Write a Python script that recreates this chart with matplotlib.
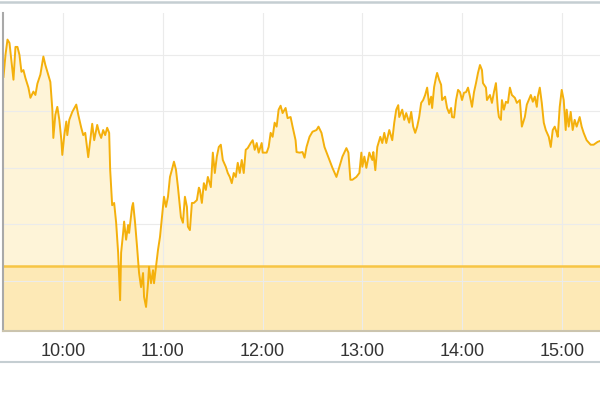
import matplotlib.pyplot as plt
from matplotlib.lines import Line2D
from matplotlib.ticker import FuncFormatter

# intraday series, time in decimal hours
times = [
    9.40, 9.42, 9.44, 9.46, 9.50, 9.52, 9.54, 9.56, 9.58, 9.60,
    9.62, 9.65, 9.67, 9.70, 9.72, 9.74, 9.77, 9.80, 9.82, 9.84,
    9.87, 9.89, 9.90, 9.92, 9.94, 9.96, 9.98, 9.99, 10.01, 10.03,
    10.04, 10.06, 10.09, 10.13, 10.15, 10.18, 10.20, 10.22, 10.25, 10.27,
    10.29, 10.31, 10.34, 10.36, 10.38, 10.40, 10.42, 10.44, 10.46, 10.47,
    10.49, 10.51, 10.53, 10.55, 10.57, 10.58, 10.60, 10.61, 10.63, 10.65,
    10.66, 10.69, 10.70, 10.72, 10.74, 10.76, 10.78, 10.80, 10.81, 10.83,
    10.85, 10.86, 10.88, 10.90, 10.91, 10.93, 10.95, 10.97, 10.99, 11.01,
    11.03, 11.05, 11.07, 11.09, 11.11, 11.13, 11.15, 11.18, 11.20, 11.22,
    11.24, 11.25, 11.27, 11.29, 11.31, 11.34, 11.36, 11.37, 11.39, 11.41,
    11.43, 11.45, 11.48, 11.50, 11.52, 11.54, 11.56, 11.58, 11.60, 11.63,
    11.65, 11.67, 11.69, 11.71, 11.73, 11.75, 11.77, 11.79, 11.81, 11.83,
    11.85, 11.88, 11.90, 11.92, 11.94, 11.96, 11.99, 12.00, 12.04, 12.06,
    12.08, 12.10, 12.12, 12.14, 12.16, 12.18, 12.20, 12.23, 12.25, 12.28,
    12.30, 12.33, 12.34, 12.37, 12.40, 12.42, 12.44, 12.47, 12.50, 12.54,
    12.56, 12.59, 12.62, 12.67, 12.70, 12.74, 12.77, 12.80, 12.84, 12.86,
    12.88, 12.90, 12.94, 12.97, 12.99, 13.00, 13.02, 13.04, 13.07, 13.10,
    13.11, 13.13, 13.15, 13.18, 13.20, 13.22, 13.24, 13.27, 13.30, 13.32,
    13.34, 13.36, 13.37, 13.40, 13.42, 13.44, 13.47, 13.49, 13.51, 13.53,
    13.55, 13.57, 13.59, 13.61, 13.63, 13.65, 13.67, 13.69, 13.70, 13.72,
    13.74, 13.75, 13.77, 13.79, 13.80, 13.83, 13.85, 13.87, 13.89, 13.90,
    13.92, 13.94, 13.96, 13.98, 14.00, 14.02, 14.04, 14.06, 14.08, 14.10,
    14.12, 14.14, 14.16, 14.18, 14.20, 14.21, 14.24, 14.25, 14.28, 14.30,
    14.32, 14.34, 14.36, 14.37, 14.39, 14.40, 14.42, 14.44, 14.46, 14.48,
    14.50, 14.53, 14.55, 14.58, 14.60, 14.63, 14.65, 14.69, 14.71, 14.73,
    14.75, 14.76, 14.78, 14.80, 14.82, 14.84, 14.87, 14.89, 14.91, 14.93,
    14.95, 14.96, 14.98, 15.00, 15.02, 15.04, 15.05, 15.07, 15.09, 15.11,
    15.13, 15.15, 15.18, 15.20, 15.22, 15.25, 15.29, 15.32, 15.36, 15.39,
]
prices = [
    136.1, 140.0, 142.7, 142.1, 135.6, 141.4, 141.4, 140.0, 137.0, 137.3,
    135.9, 134.2, 132.4, 133.5, 132.9, 134.9, 136.5, 139.7, 138.2, 137.0,
    135.2, 130.3, 125.3, 129.4, 130.8, 128.5, 125.0, 122.3, 125.8, 128.2,
    125.8, 128.5, 129.9, 131.2, 129.4, 127.1, 125.8, 126.2, 121.9, 124.9,
    127.8, 124.9, 127.6, 126.2, 125.3, 126.7, 125.8, 127.1, 126.2, 119.7,
    113.4, 113.8, 110.3, 105.0, 96.6, 105.0, 108.5, 110.5, 107.3, 109.9,
    108.5, 113.1, 113.8, 110.3, 106.0, 101.4, 98.9, 101.4, 97.2, 95.4,
    99.6, 102.5, 99.6, 101.9, 99.6, 102.5, 105.5, 107.8, 111.3, 114.9,
    113.1, 114.9, 118.4, 119.7, 121.1, 119.7, 116.6, 111.3, 110.3, 114.9,
    113.1, 109.6, 109.0, 113.8, 113.8, 114.3, 116.5, 116.1, 113.8, 117.3,
    116.1, 118.4, 116.6, 122.7, 119.1, 122.0, 123.7, 124.1, 121.4, 120.2,
    119.1, 118.4, 117.3, 119.1, 118.4, 120.9, 119.1, 121.4, 119.1, 123.2,
    123.5, 124.4, 124.9, 123.2, 124.4, 122.7, 124.4, 122.7, 122.7, 123.7,
    126.2, 125.5, 128.0, 127.3, 130.3, 131.0, 129.7, 130.6, 128.8, 129.0,
    127.3, 124.9, 122.8, 122.7, 122.8, 121.8, 123.7, 125.5, 126.4, 126.7,
    127.3, 126.2, 123.7, 121.4, 120.0, 118.4, 120.2, 122.0, 123.5, 122.7,
    117.9, 117.9, 118.4, 119.1, 122.7, 120.2, 122.0, 120.0, 122.7, 121.4,
    122.8, 119.6, 123.7, 125.5, 124.4, 126.2, 124.4, 126.7, 124.9, 128.0,
    130.3, 131.1, 129.0, 130.3, 128.5, 129.7, 128.0, 129.9, 127.3, 126.2,
    127.3, 129.0, 131.5, 132.0, 132.9, 134.2, 131.2, 132.6, 130.6, 134.3,
    136.1, 136.8, 135.6, 134.7, 132.0, 132.6, 130.6, 129.7, 130.6, 129.0,
    128.9, 132.0, 133.8, 133.4, 132.0, 133.3, 133.4, 134.2, 132.6, 130.8,
    133.4, 135.0, 136.8, 138.2, 137.3, 135.0, 134.2, 132.0, 132.9, 131.5,
    133.4, 135.0, 130.3, 129.0, 128.5, 132.0, 130.3, 131.7, 131.5, 134.2,
    132.9, 132.4, 131.5, 132.0, 127.3, 129.0, 131.2, 132.9, 131.7, 132.6,
    130.8, 132.6, 134.2, 131.5, 128.0, 126.7, 125.5, 123.7, 126.7, 127.3,
    126.2, 125.5, 130.8, 133.8, 132.0, 126.7, 130.3, 127.3, 129.9, 126.7,
    128.5, 127.3, 129.0, 127.3, 126.2, 124.9, 124.1, 124.1, 124.6, 124.8,
]
prev_close = 102.66
hour_ticks = [10, 11, 12, 13, 14, 15]
grid_levels = [100, 110, 120, 130, 140]


def main():
    fig = plt.figure(figsize=(6, 4), dpi=100)
    ax = fig.add_axes([0.005, 0.1725, 0.995, 0.795])

    ax.set_xlim(9.395, 15.384)
    ax.set_ylim(91.15, 147.4)
    bottom = ax.get_ylim()[0]

    # area under price, then the band under previous close
    ax.fill_between(times, prices, bottom, color="#fef4d8", lw=0, zorder=1.0)
    ax.axhspan(bottom, prev_close, color="#fde9b6", lw=0, zorder=1.2)
    ax.axhline(prev_close, color="#f7c544", lw=1.8, zorder=1.8)
    ax.plot(times, prices, color="#f4b00c", lw=1.4, zorder=2)

    ax.set_xticks(hour_ticks)
    ax.xaxis.set_major_formatter(FuncFormatter(lambda v, p: f"{int(v)}:00"))
    ax.set_yticks(grid_levels)
    ax.set_yticklabels([])
    ax.set_axisbelow("line")
    ax.grid(True, color="#ebebeb", lw=0.8)
    ax.tick_params(axis="both", length=0)
    ax.tick_params(axis="x", pad=9, labelsize=13, labelcolor="#333333")
    for lab in ax.get_xticklabels():
        lab.set_family(["Liberation Sans", "DejaVu Sans"])

    ax.spines["top"].set_visible(False)
    ax.spines["right"].set_visible(False)
    ax.spines["left"].set_color("#a9a9a9")
    ax.spines["left"].set_linewidth(1.5)
    ax.spines["bottom"].set_color("#cbc4ae")
    ax.spines["bottom"].set_linewidth(1.5)

    # frame lines above and below the chart
    fig.add_artist(Line2D([0, 1], [0.995, 0.995], color="#c5ced2", lw=1.8))
    fig.add_artist(Line2D([0, 1], [0.095, 0.095], color="#c5ced2", lw=1.5))

    fig.savefig("out.png")


if __name__ == "__main__":
    main()
